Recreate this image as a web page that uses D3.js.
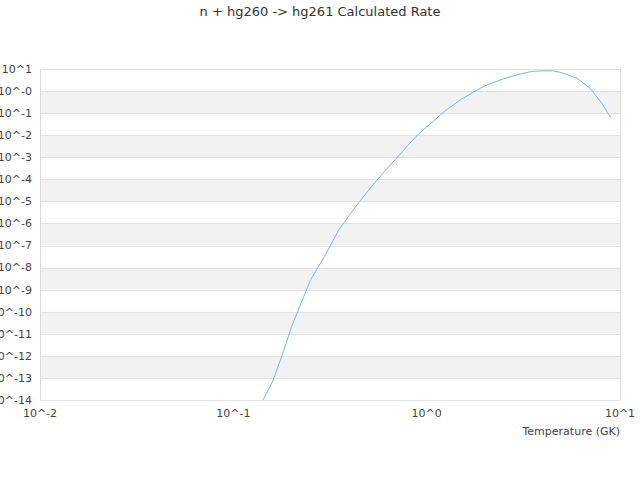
<!DOCTYPE html>
<html>
<head>
<meta charset="utf-8">
<script src="https://cdn.jsdelivr.net/npm/d3@7"></script>
<style>
  body { margin: 0; background: #fff; }
  text { font-family: "DejaVu Sans", sans-serif; }
</style>
</head>
<body>
<div id="chart"></div>
<script>
// temperatures (GK) and rates
const temps = [0.14, 0.16, 0.18, 0.2, 0.25, 0.3, 0.35, 0.4, 0.45, 0.5, 0.6, 0.7, 0.8, 0.9, 1,
    1.25, 1.5, 1.75, 2, 2.5, 3, 3.5, 4, 4.5, 5, 6, 7, 8, 9];
const rates = [7.6e-15, 7.2e-14, 1.26e-12, 2.1e-11, 2.6e-9, 3.9e-8, 4.9e-7, 2.5e-6, 9.8e-6, 3.2e-5,
    2.1e-4, 9.3e-4, 3.5e-3, 1.05e-2, 2.4e-2, 0.13, 0.41, 0.91, 1.74, 3.6, 5.8, 7.8, 8.3, 8.3,
    6.8, 3.8, 1.35, 0.30, 0.060];

const xTickValues = [1e-2, 1e-1, 1e0, 1e1];
const xTickLabels = ['10^-2', '10^-1', '10^0', '10^1'];
const yExponents = [1, 0, -1, -2, -3, -4, -5, -6, -7, -8, -9, -10, -11, -12, -13, -14];
const yTickLabels = ['10^1', '10^-0', '10^-1', '10^-2', '10^-3', '10^-4', '10^-5', '10^-6',
    '10^-7', '10^-8', '10^-9', '10^-10', '10^-11', '10^-12', '10^-13', '10^-14'];

const title = 'n + hg260 -> hg261 Calculated Rate';
const xTitle = 'Temperature (GK)';

const width = 640;
const height = 480;
const plot = {left: 40, right: 620, top: 69, bottom: 400};

const svg = d3.select('#chart').append('svg')
    .attr('width', width)
    .attr('height', height);

const x = d3.scaleLog().domain([1e-2, 1e1]).range([plot.left, plot.right]);
const y = d3.scaleLog().domain([1e-14, 1e1]).range([plot.bottom, plot.top]);

// alternating bands
const bands = d3.pairs(yExponents);
svg.append('g').selectAll('rect')
    .data(bands)
    .join('rect')
    .attr('x', plot.left)
    .attr('width', plot.right - plot.left)
    .attr('y', d => y(10 ** d[0]))
    .attr('height', d => y(10 ** d[1]) - y(10 ** d[0]))
    .attr('fill', (d, i) => (i % 2 ? '#f2f2f2' : '#ffffff'));

// horizontal grid lines
svg.append('g').selectAll('line')
    .data(yExponents)
    .join('line')
    .attr('x1', plot.left)
    .attr('x2', plot.right)
    .attr('y1', d => Math.round(y(10 ** d)) + 0.5)
    .attr('y2', d => Math.round(y(10 ** d)) + 0.5)
    .attr('stroke', '#e0e0e0');

// plot frame on left and right
svg.append('line')
    .attr('x1', plot.left + 0.5).attr('x2', plot.left + 0.5)
    .attr('y1', plot.top).attr('y2', plot.bottom)
    .attr('stroke', '#dadada');
svg.append('line')
    .attr('x1', plot.right + 0.5).attr('x2', plot.right + 0.5)
    .attr('y1', plot.top).attr('y2', plot.bottom)
    .attr('stroke', '#dadada');

// y labels
svg.append('g').selectAll('text')
    .data(yExponents)
    .join('text')
    .attr('x', plot.left - 8)
    .attr('y', d => y(10 ** d))
    .attr('dy', '0.35em')
    .attr('text-anchor', 'end')
    .attr('font-size', 11)
    .attr('fill', '#444')
    .text((d, i) => yTickLabels[i]);

// x labels
svg.append('g').selectAll('text')
    .data(xTickValues)
    .join('text')
    .attr('x', d => x(d))
    .attr('y', plot.bottom + 17)
    .attr('text-anchor', 'middle')
    .attr('font-size', 11)
    .attr('fill', '#444')
    .text((d, i) => xTickLabels[i]);

svg.append('text')
    .attr('x', plot.right)
    .attr('y', plot.bottom + 35)
    .attr('text-anchor', 'end')
    .attr('font-size', 11)
    .attr('fill', '#444')
    .text(xTitle);

svg.append('text')
    .attr('x', width / 2)
    .attr('y', 16)
    .attr('text-anchor', 'middle')
    .attr('font-size', 13)
    .attr('fill', '#333')
    .text(title);

// series line, clipped to the plot
svg.append('clipPath').attr('id', 'plot-clip')
    .append('rect')
    .attr('x', plot.left)
    .attr('y', plot.top)
    .attr('width', plot.right - plot.left)
    .attr('height', plot.bottom - plot.top);

const line = d3.line()
    .x((d, i) => x(temps[i]))
    .y(d => y(d));

svg.append('path')
    .datum(rates)
    .attr('clip-path', 'url(#plot-clip)')
    .attr('d', line)
    .attr('fill', 'none')
    .attr('stroke', '#7cb5ec')
    .attr('stroke-width', 1);
</script>
</body>
</html>
